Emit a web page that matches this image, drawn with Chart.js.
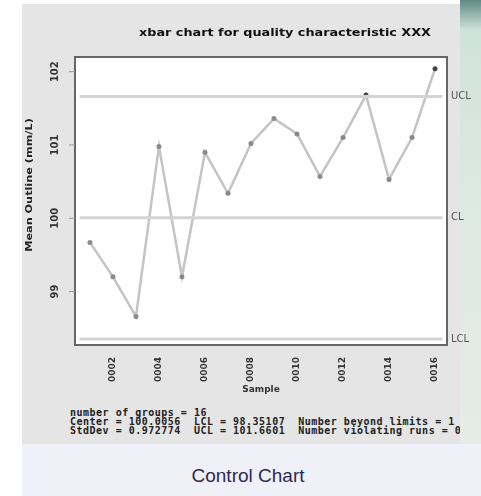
<!DOCTYPE html>
<html>
<head>
<meta charset="utf-8">
<script src="https://cdn.jsdelivr.net/npm/chart.js@4.4.1/dist/chart.umd.min.js"></script>
<style>
  body { margin: 0; width: 481px; height: 496px; background: #fff; overflow: hidden; position: relative; font-family: "Liberation Sans", Arial, sans-serif; }
  #panel { position: absolute; left: 22px; top: 4px; width: 440px; height: 440px; background: #e5e5e5; overflow: hidden; }
  #stripe { position: absolute; left: 460px; top: 0; width: 21px; height: 460px; background: linear-gradient(#5f8a85 0px, #cfe2da 30px, #dde9e3 200px, #e6ece8 460px); }
  #band { position: absolute; left: 22px; top: 444px; width: 459px; height: 52px; background: #f0f0f8; }
  #band div { position: absolute; left: 0; width: 452px; top: 21px; text-align: center; font-size: 19px; color: #2b2b52; }
  #stats { position: absolute; left: 48px; top: 404px; font-family: "DejaVu Sans Mono", monospace; font-size: 10px; line-height: 9px; color: #222; white-space: pre; font-weight: bold; letter-spacing: 0.5px; }
  canvas { position: absolute; left: 0; top: 0; }
</style>
</head>
<body>
<div id="panel">
  <div id="stats">number of groups = 16
Center = 100.0056  LCL = 98.35107  Number beyond limits = 1
StdDev = 0.972774  UCL = 101.6601  Number violating runs = 0</div>
</div>
<div id="stripe"></div>
<div id="band"><div>Control Chart</div></div>
<canvas id="xbarChart" width="481" height="496"></canvas>
<script>
// Sample values
const samples = ["0001", "0002", "0003", "0004", "0005", "0006", "0007", "0008",
  "0009", "0010", "0011", "0012", "0013", "0014", "0015", "0016"];
const xbarValues = [99.67, 99.2, 98.66, 100.98, 99.2, 100.9, 100.34, 101.02,
  101.36, 101.15, 100.57, 101.1, 101.68, 100.53, 101.1, 102.04];
const centerLine = 100.0056;
const upperLimit = 101.6601;
const lowerLimit = 98.35107;
const yTicks = [99, 100, 101, 102];
const xTicks = [2, 4, 6, 8, 10, 12, 14, 16];

const xMin = 0.35;
const xMax = 16.52;

function limitLine(value) {
  return [{ x: xMin + 0.2, y: value }, { x: xMax - 0.2, y: value }];
}

// Draw plot box, rotated y labels and limit labels
const decorations = {
  id: "decorations",
  beforeDraw(chart) {
    const a = chart.chartArea;
    const ctx = chart.ctx;
    ctx.save();
    ctx.fillStyle = "#fff";
    ctx.fillRect(a.left, a.top, a.right - a.left, a.bottom - a.top);
    ctx.restore();
  },
  afterDraw(chart) {
    const a = chart.chartArea;
    const ctx = chart.ctx;
    const y = chart.scales.y;
    ctx.save();
    ctx.strokeStyle = "#666";
    ctx.lineWidth = 2;
    ctx.strokeRect(a.left, a.top, a.right - a.left, a.bottom - a.top);

    // y tick labels, rotated like the original
    ctx.fillStyle = "#333";
    ctx.font = "bold 10px 'DejaVu Sans'";
    ctx.textAlign = "center";
    ctx.textBaseline = "middle";
    yTicks.forEach(function (t) {
      const py = y.getPixelForValue(t);
      ctx.save();
      ctx.translate(55, py);
      ctx.rotate(-Math.PI / 2);
      ctx.fillText(String(t), 0, 0);
      ctx.restore();
      ctx.strokeStyle = "#999";
      ctx.lineWidth = 1;
      ctx.beginPath();
      ctx.moveTo(a.left - 6, py);
      ctx.lineTo(a.left, py);
      ctx.stroke();
    });

    // y axis title
    ctx.save();
    ctx.translate(30, 185);
    ctx.rotate(-Math.PI / 2);
    ctx.scale(1.25, 1);
    ctx.font = "bold 9px 'DejaVu Sans'";
    ctx.fillStyle = "#222";
    ctx.fillText("Mean Outline (mm/L)", 0, 0);
    ctx.restore();

    // limit labels on the right
    ctx.font = "10px 'DejaVu Sans'";
    ctx.fillStyle = "#555";
    ctx.textAlign = "left";
    [["UCL", upperLimit], ["CL", centerLine], ["LCL", lowerLimit]].forEach(function (l) {
      ctx.fillText(l[0], a.right + 4, y.getPixelForValue(l[1]));
    });

    // title
    ctx.save();
    ctx.translate(285, 33);
    ctx.scale(1.28, 1);
    ctx.font = "bold 10px 'DejaVu Sans'";
    ctx.fillStyle = "#111";
    ctx.textAlign = "center";
    ctx.fillText("xbar chart for quality characteristic XXX", 0, 0);
    ctx.restore();
    ctx.restore();
  }
};

const ctx = document.getElementById("xbarChart").getContext("2d");

const chart = new Chart(ctx, {
  type: "line",
  data: {
    datasets: [
      {
        label: "UCL",
        data: limitLine(upperLimit),
        borderColor: "#d4d4d4",
        borderWidth: 3,
        pointRadius: 0,
      },
      {
        label: "CL",
        data: limitLine(centerLine),
        borderColor: "#d4d4d4",
        borderWidth: 3,
        pointRadius: 0,
      },
      {
        label: "LCL",
        data: limitLine(lowerLimit),
        borderColor: "#d4d4d4",
        borderWidth: 3,
        pointRadius: 0,
      },
      {
        label: "Group mean",
        data: xbarValues.map(function (v, i) { return { x: i + 1, y: v }; }),
        borderColor: "#c4c4c4",
        borderWidth: 2.5,
        pointRadius: 2.5,
        pointBackgroundColor: xbarValues.map(function (v) { return v > upperLimit ? "#444" : "#8a8a8a"; }),
        pointBorderWidth: 0,
      },
    ],
  },
  options: {
    responsive: false,
    animation: false,
    layout: { padding: { left: 75, top: 57, right: 34, bottom: 101 } },
    plugins: { legend: { display: false }, tooltip: { enabled: false } },
    scales: {
      x: {
        type: "linear",
        min: xMin,
        max: xMax,
        afterBuildTicks: function (axis) {
          axis.ticks = xTicks.map(function (v) { return { value: v }; });
        },
        afterFit: function (axis) { axis.height = 50; },
        grid: { display: false, drawTicks: true },
        border: { display: false },
        ticks: {
          autoSkip: false,
          minRotation: 90,
          maxRotation: 90,
          padding: 4,
          color: "#333",
          font: { family: "DejaVu Sans", size: 9, weight: "bold" },
          callback: function (v) { return samples[v - 1]; },
        },
        title: {
          display: true,
          text: "Sample",
          color: "#333",
          padding: 0,
          font: { family: "DejaVu Sans", size: 9, weight: "bold" },
        },
      },
      y: {
        min: 98.27,
        max: 102.2,
        afterFit: function (axis) { axis.width = 0; },
        grid: { display: false },
        border: { display: false },
        ticks: { display: false },
      },
    },
  },
  plugins: [decorations],
});
</script>
</body>
</html>
